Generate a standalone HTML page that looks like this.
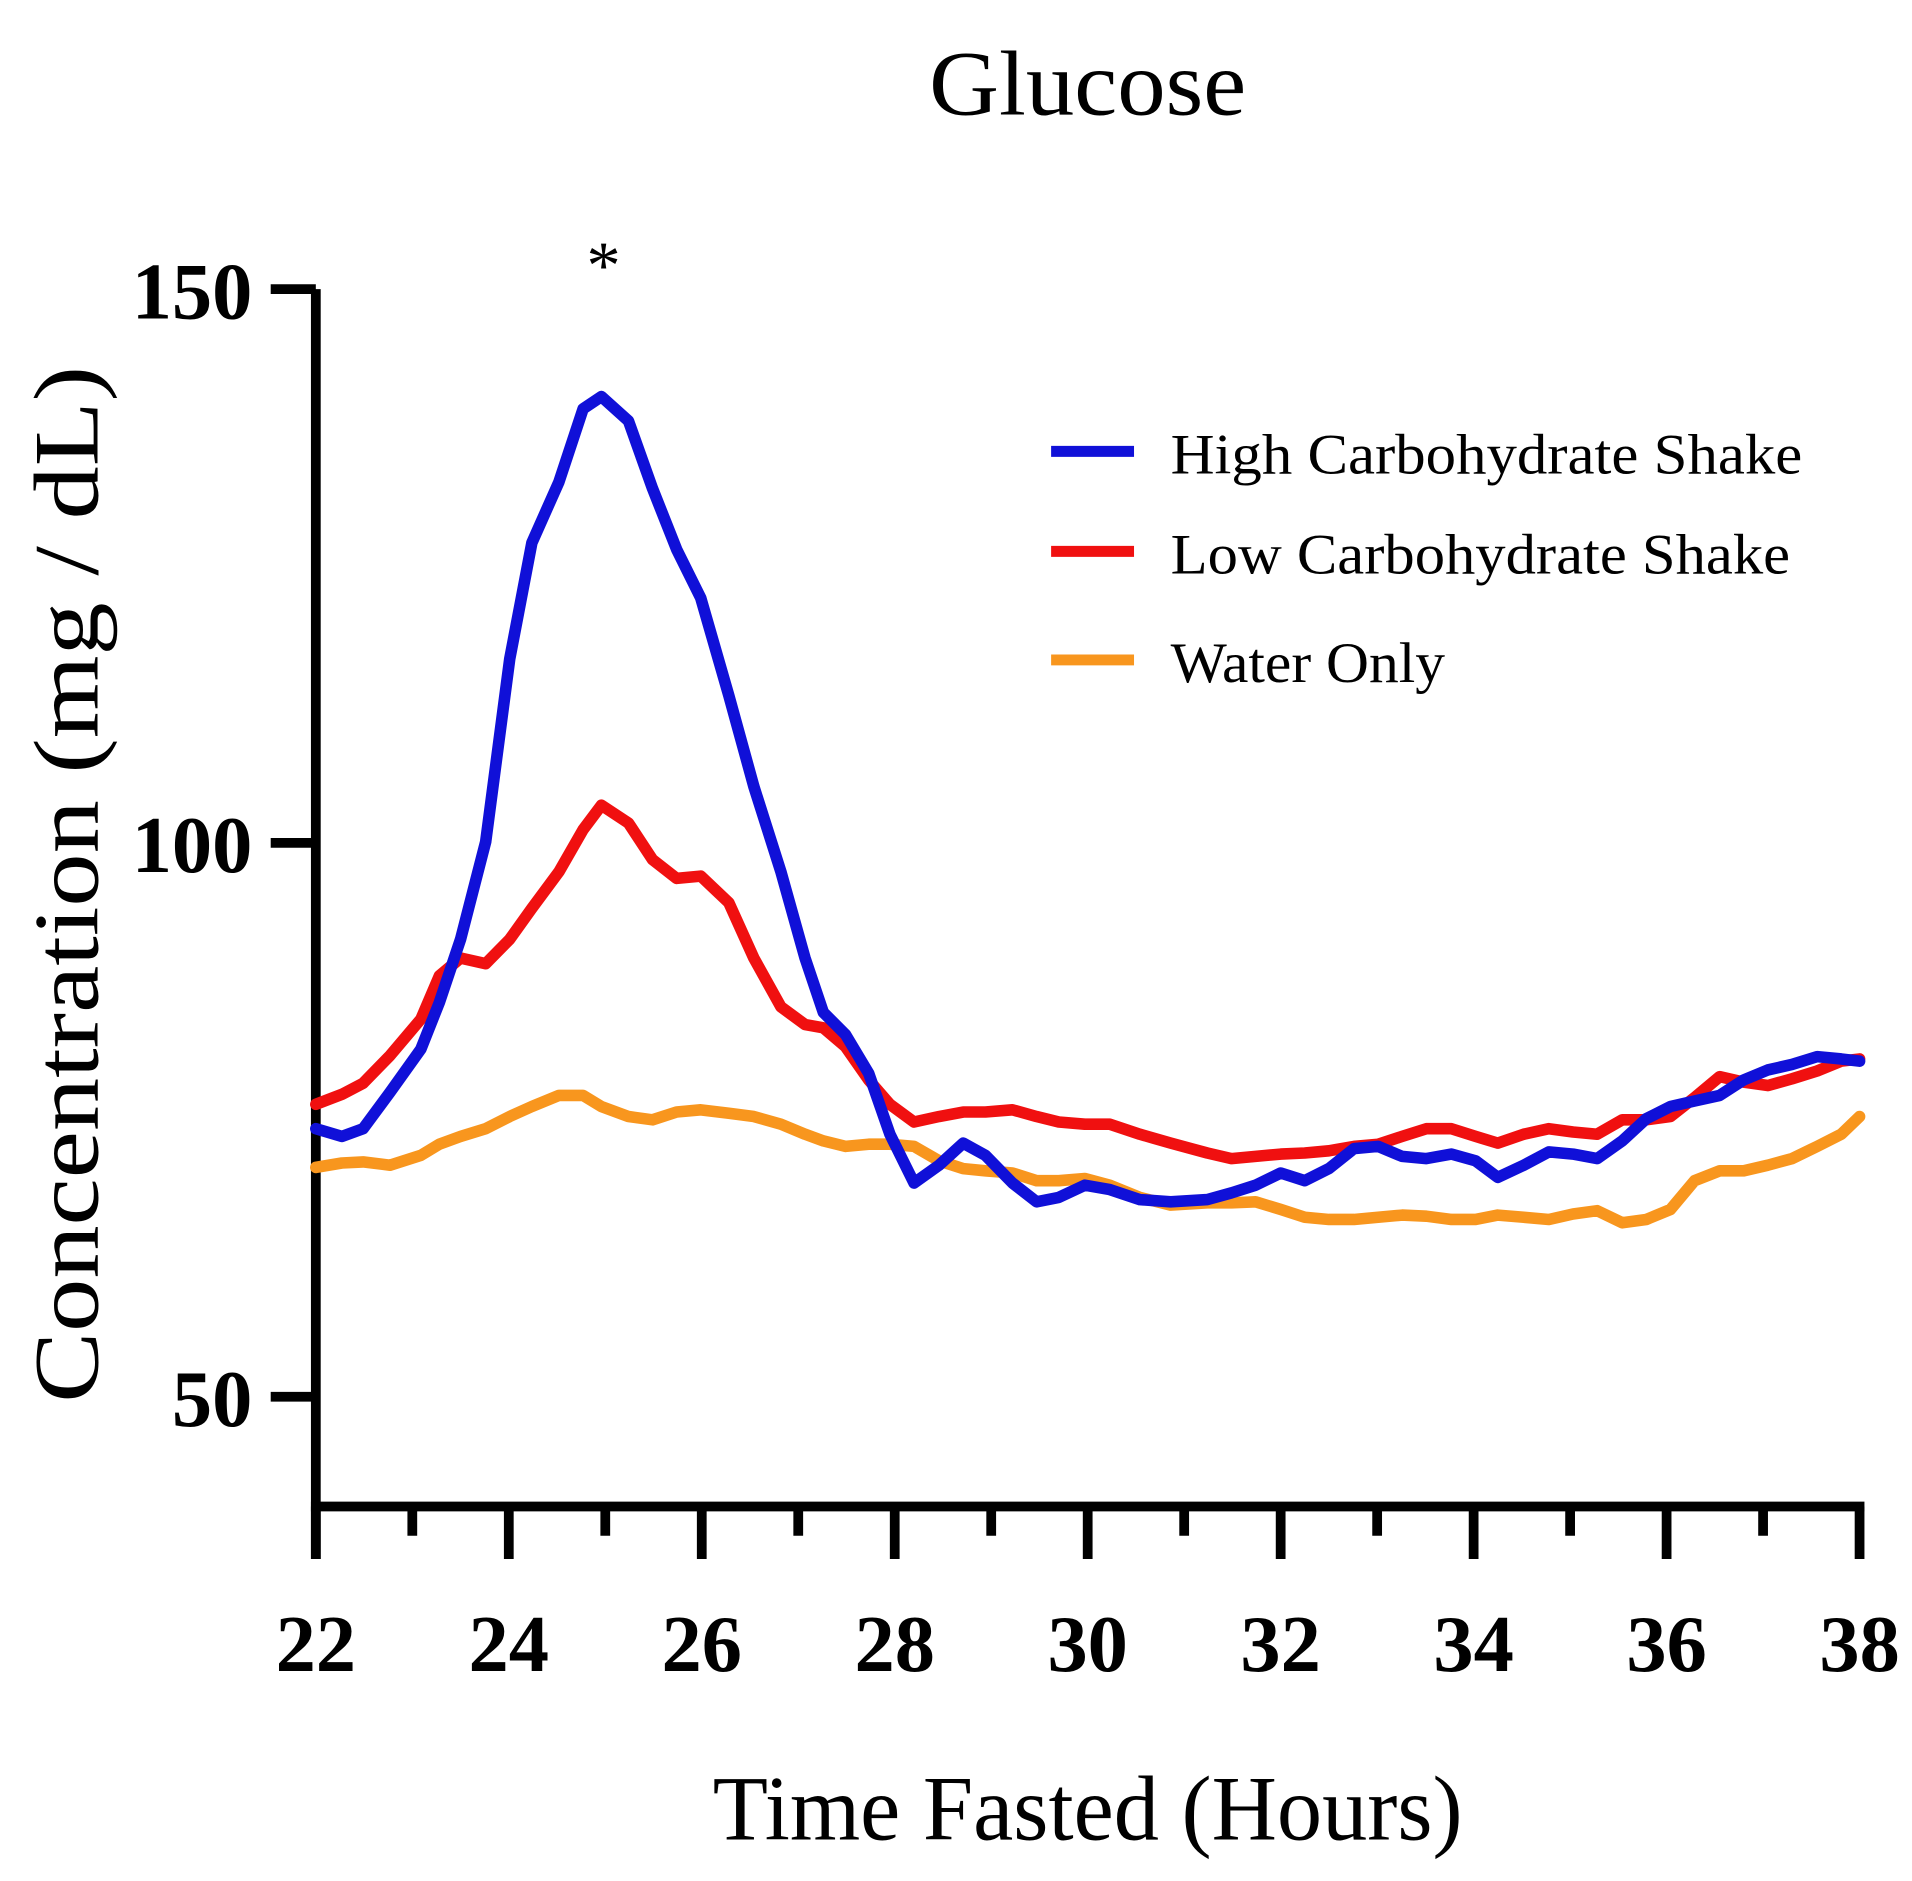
<!DOCTYPE html>
<html><head><meta charset="utf-8"><style>
html,body{margin:0;padding:0;background:#fff;}
svg{display:block;}
</style></head><body>
<svg id="chart" width="1912" height="1881" viewBox="0 0 1568 1542" preserveAspectRatio="none" xmlns="http://www.w3.org/2000/svg">
<text x="892" y="94" text-anchor="middle" font-family="Liberation Serif, serif" font-size="76" textLength="260" lengthAdjust="spacingAndGlyphs">Glucose</text>
<text x="495" y="236" text-anchor="middle" font-family="Liberation Serif, serif" font-size="56">*</text>
<text transform="translate(80,725) rotate(-90)" text-anchor="middle" font-family="Liberation Serif, serif" font-size="76" textLength="850" lengthAdjust="spacingAndGlyphs">Concentration (mg / dL)</text>
<text x="892" y="1508" text-anchor="middle" font-family="Liberation Serif, serif" font-size="76" textLength="615" lengthAdjust="spacingAndGlyphs">Time Fasted (Hours)</text>
<g id="axes"></g>
<g id="series"></g>
<g font-family="Liberation Serif, serif" font-size="47">
  <g><line x1="862" y1="370" x2="930" y2="370" stroke="#1010d8" stroke-width="9"/><text x="960" y="388" textLength="518" lengthAdjust="spacingAndGlyphs">High Carbohydrate Shake</text></g>
  <g><line x1="862" y1="452" x2="930" y2="452" stroke="#f01010" stroke-width="9"/><text x="960" y="470" textLength="508" lengthAdjust="spacingAndGlyphs">Low Carbohydrate Shake</text></g>
  <g><line x1="862" y1="541" x2="930" y2="541" stroke="#f8961e" stroke-width="9"/><text x="960" y="559" textLength="225" lengthAdjust="spacingAndGlyphs">Water Only</text></g>
</g>
</svg>
<script>
const hours=[22.0,22.27,22.49,22.77,23.09,23.28,23.5,23.76,24.01,24.24,24.52,24.77,24.96,25.24,25.49,25.74,25.99,26.28,26.54,26.82,27.07,27.26,27.49,27.73,27.95,28.2,28.46,28.71,28.94,29.22,29.47,29.7,29.97,30.23,30.54,30.86,31.24,31.49,31.74,32.0,32.25,32.5,32.76,33.01,33.26,33.51,33.77,34.02,34.25,34.52,34.78,35.03,35.28,35.54,35.79,36.04,36.29,36.55,36.8,37.05,37.3,37.56,37.81,38.0];
const highCarb=[74.2,73.5,74.2,77.5,81.4,85.6,91.3,100.1,116.6,127.1,132.6,139.2,140.3,138.1,132.0,126.5,122.1,113.3,105.1,97.4,89.6,84.7,82.7,79.2,73.7,69.3,70.9,72.9,71.8,69.3,67.6,68.0,69.1,68.7,67.8,67.6,67.8,68.4,69.1,70.2,69.5,70.6,72.4,72.6,71.7,71.5,71.9,71.3,69.8,70.9,72.1,71.9,71.5,73.1,75.1,76.2,76.7,77.2,78.6,79.5,80.0,80.7,80.5,80.3];
const lowCarb=[76.4,77.3,78.3,80.8,84.1,88.0,89.6,89.1,91.3,94.1,97.4,101.2,103.4,101.8,98.5,96.8,97.0,94.6,89.6,85.2,83.6,83.3,81.6,78.6,76.4,74.8,75.3,75.7,75.7,75.9,75.3,74.8,74.6,74.6,73.7,72.9,72.0,71.5,71.7,71.9,72.0,72.2,72.6,72.8,73.5,74.2,74.2,73.5,72.9,73.7,74.2,73.9,73.7,75.0,75.0,75.3,77.0,78.9,78.4,78.1,78.7,79.4,80.3,80.5];
const waterOnly=[70.7,71.1,71.2,70.9,71.8,72.8,73.5,74.2,75.3,76.2,77.2,77.2,76.2,75.3,75.0,75.7,75.9,75.6,75.3,74.6,73.7,73.1,72.6,72.8,72.8,72.6,71.3,70.6,70.4,70.2,69.5,69.5,69.7,69.1,68.0,67.3,67.5,67.5,67.6,66.9,66.2,66.0,66.0,66.2,66.4,66.3,66.0,66.0,66.4,66.2,66.0,66.5,66.8,65.7,66.0,66.9,69.5,70.4,70.4,70.9,71.5,72.6,73.7,75.3];
const xTicks=[22,24,26,28,30,32,34,36,38];
const yTicks=[50,100,150];

const NS="http://www.w3.org/2000/svg";
const X0=259,X1=1525,Y0=1235,Ytop=237;
function sx(h){return X0+(h-22)/(38-22)*(X1-X0);}
function sy(v){return 691+(100-v)*(1145-691)/50;}
function mk(tag,attrs,parent){const e=document.createElementNS(NS,tag);for(const k in attrs)e.setAttribute(k,attrs[k]);parent.appendChild(e);return e;}
const axes=document.getElementById('axes');
const yax=mk('line',{x1:X0,y1:Ytop,x2:X0,y2:1278,stroke:'#000','stroke-width':8},axes);


const xax=mk('line',{x1:X0-4,y1:Y0,x2:X1+4,y2:Y0,stroke:'#000','stroke-width':8},axes);


for(let h=23;h<38;h+=2){
  const t=mk('line',{x1:sx(h),y1:Y0,x2:sx(h),y2:1259,stroke:'#000','stroke-width':8},axes);
  
  
}
xTicks.forEach(h=>{
  const t=mk('line',{x1:sx(h),y1:Y0,x2:sx(h),y2:1278,stroke:'#000','stroke-width':8},axes);
  
  
  const l=mk('text',{x:sx(h),y:1370,'text-anchor':'middle','font-family':'Liberation Serif, serif','font-size':66,'font-weight':'bold'},axes);
  l.textContent=h;
  
  
});
yTicks.forEach(v=>{
  const t=mk('line',{x1:222,y1:sy(v),x2:X0,y2:sy(v),stroke:'#000','stroke-width':8},axes);
  
  
  const l=mk('text',{x:207,y:sy(v)+24,'text-anchor':'end','font-family':'Liberation Serif, serif','font-size':66,'font-weight':'bold'},axes);
  l.textContent=v;
  
  
});
const ser=document.getElementById('series');
function draw(vals,color,name){
  const d=vals.map((v,i)=>(i?'L':'M')+sx(hours[i]).toFixed(1)+','+sy(v).toFixed(1)).join(' ');
  const p=mk('path',{d:d,fill:'none',stroke:color,'stroke-width':9.5,'stroke-linejoin':'round','stroke-linecap':'round'},ser);
  
  
}
draw(waterOnly,'#f8961e','water-only-line');
draw(lowCarb,'#f01010','low-carb-line');
draw(highCarb,'#1010d8','high-carb-line');
</script>
</body></html>
